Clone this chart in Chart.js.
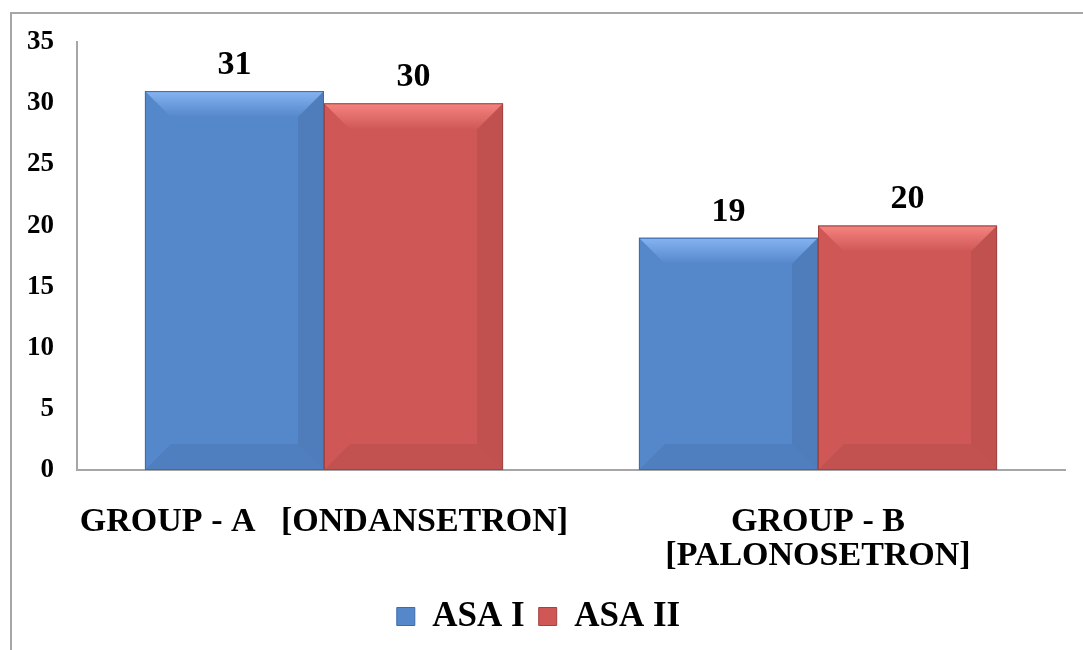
<!DOCTYPE html>
<html>
<head>
<meta charset="utf-8">
<script src="https://cdn.jsdelivr.net/npm/chart.js@4/dist/chart.umd.min.js"></script>
<style>
  html, body { margin: 0; padding: 0; background: #fff; overflow: hidden; }
  #frame {
    position: absolute; left: 10px; top: 12px;
    width: 1100px; height: 700px;
    border-left: 2px solid #a6a6a6; border-top: 2px solid #a6a6a6;
  }
  #wrap { position: absolute; left: 0; top: -3px; width: 1071px; height: 639px; }
</style>
</head>
<body>
<div id="frame"><div id="wrap"><canvas id="myBarChart"></canvas></div></div>
<script>
var categories = [['GROUP - A   [ONDANSETRON]'], ['GROUP - B', '[PALONOSETRON]']];
var seriesNames = ['ASA I', 'ASA II'];
var asa1 = [31, 19];
var asa2 = [30, 20];
var yTicks = [0, 5, 10, 15, 20, 25, 30, 35];

var fontFamily = '"Liberation Serif", "Times New Roman", serif';
var palette = [
  { main: '#5587cb', light: '#86b4f2', dark: '#3e6aa8' },
  { main: '#cf5856', light: '#f5847f', dark: '#a34341' }
];

function drawBevel(ctx, l, t, r, b, bv, col) {
  ctx.save();
  // top strip
  var g = ctx.createLinearGradient(0, t, 0, t + bv);
  g.addColorStop(0, col.light);
  g.addColorStop(1, col.main);
  ctx.fillStyle = g;
  ctx.beginPath();
  ctx.moveTo(l, t); ctx.lineTo(r, t); ctx.lineTo(r - bv, t + bv); ctx.lineTo(l + bv, t + bv);
  ctx.closePath(); ctx.fill();
  // right strip
  ctx.fillStyle = 'rgba(0,0,0,0.07)';
  ctx.beginPath();
  ctx.moveTo(r, t); ctx.lineTo(r, b); ctx.lineTo(r - bv, b - bv); ctx.lineTo(r - bv, t + bv);
  ctx.closePath(); ctx.fill();
  // bottom strip
  ctx.fillStyle = 'rgba(0,0,0,0.06)';
  ctx.beginPath();
  ctx.moveTo(l, b); ctx.lineTo(r, b); ctx.lineTo(r - bv, b - bv); ctx.lineTo(l + bv, b - bv);
  ctx.closePath(); ctx.fill();
  // edge
  ctx.strokeStyle = col.dark;
  ctx.lineWidth = 1;
  ctx.strokeRect(l + 0.5, t + 0.5, r - l - 1, b - t - 1);
  ctx.restore();
}

// bevel look drawn over every bar
var bevelPlugin = {
  id: 'bevel',
  afterDatasetsDraw: function(chart) {
    var ctx = chart.ctx;
    chart.data.datasets.forEach(function(ds, di) {
      chart.getDatasetMeta(di).data.forEach(function(bar) {
        var l = bar.x - bar.width / 2, r = bar.x + bar.width / 2;
        drawBevel(ctx, l, bar.y, r, bar.base, Math.min(26, (bar.base - bar.y) / 2), palette[di]);
      });
    });
  }
};

var valueLabels = {
  id: 'valueLabels',
  afterDatasetsDraw: function(chart) {
    var ctx = chart.ctx;
    ctx.save();
    ctx.font = 'bold 34px ' + fontFamily;
    ctx.fillStyle = '#000';
    ctx.textAlign = 'center';
    ctx.textBaseline = 'bottom';
    chart.data.datasets.forEach(function(ds, di) {
      chart.getDatasetMeta(di).data.forEach(function(bar, i) {
        ctx.fillText(ds.data[i], bar.x, bar.y - 9);
      });
    });
    ctx.restore();
  }
};

document.addEventListener('DOMContentLoaded', function() {
  var ctx = document.getElementById('myBarChart').getContext('2d');

  new Chart(ctx, {
    type: 'bar',
    data: {
      labels: categories,
      datasets: [
        { label: seriesNames[0], data: asa1, backgroundColor: palette[0].main, borderWidth: 0 },
        { label: seriesNames[1], data: asa2, backgroundColor: palette[1].main, borderWidth: 0 }
      ]
    },
    options: {
      responsive: true,
      maintainAspectRatio: false,
      animation: false,
      layout: { padding: { top: 1, right: 18, left: 0, bottom: 6 } },
      datasets: { bar: { categoryPercentage: 0.725, barPercentage: 1 } },
      scales: {
        x: {
          grid: { display: false },
          border: { display: true, color: '#a6a6a6', width: 2 },
          afterFit: function(axis) { axis.height -= 15; },
          ticks: {
            color: '#000',
            padding: 27,
            autoSkip: false,
            maxRotation: 0,
            font: { family: fontFamily, size: 34, weight: 'bold', lineHeight: 1.0 }
          }
        },
        y: {
          min: 0,
          max: 35,
          afterBuildTicks: function(axis) {
            axis.ticks = yTicks.map(function(v) { return { value: v }; });
          },
          grid: { display: false },
          border: { display: true, color: '#a6a6a6', width: 2 },
          ticks: {
            color: '#000',
            padding: 15,
            font: { family: fontFamily, size: 27, weight: 'bold' }
          }
        }
      },
      plugins: {
        tooltip: { enabled: false },
        legend: {
          position: 'bottom',
          labels: {
            color: '#000',
            boxWidth: 18,
            boxHeight: 18,
            padding: 14,
            font: { family: fontFamily, size: 35, weight: 'bold' },
            generateLabels: function(chart) {
              return chart.data.datasets.map(function(ds, i) {
                return {
                  text: ds.label,
                  fillStyle: palette[i].main,
                  strokeStyle: palette[i].dark,
                  lineWidth: 1,
                  datasetIndex: i
                };
              });
            }
          }
        }
      }
    },
    plugins: [bevelPlugin, valueLabels]
  });
});
</script>
</body>
</html>
